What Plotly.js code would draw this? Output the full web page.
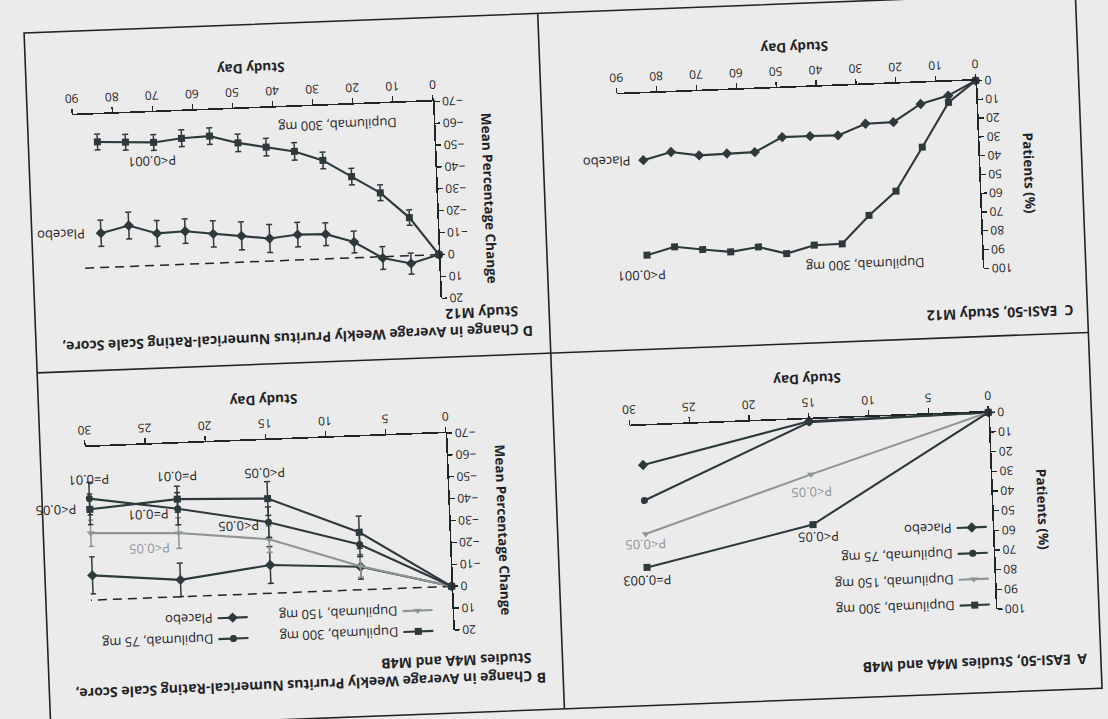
<!DOCTYPE html>
<html><head><meta charset="utf-8">
<script src="https://cdn.plot.ly/plotly-3.0.1.min.js"></script>
<style>
html,body{margin:0;padding:0;background:#ebebeb;overflow:hidden;width:1108px;height:719px;}
#wrap{width:1108px;height:719px;transform:rotate(177.8deg);transform-origin:554px 359.5px;}
#chart{width:1108px;height:719px;}
</style></head><body><div id="wrap"><div id="chart"></div></div>
<script>
// ---- Panel A: EASI-50, Studies M4A and M4B (percent of patients)
const daysA = [0, 15, 29];
const easiA_placebo = [0, 1, 20];
const easiA_75 = [0, 1.5, 38];
const easiA_150 = [0, 28, 55];
const easiA_300 = [0, 53.5, 72];

// ---- Panel B: change in weekly pruritus NRS, Studies M4A and M4B
const daysB = [0, 7.5, 15, 22.5, 29.8];
const nrsB_placebo = [0, -10.5, -12.9, -7.7, -11.3];
const nrsB_75 = [0, -20.7, -32.5, -40.2, -46.4];
const nrsB_150 = [0, -10.8, -24.7, -29.1, -30.6];
const nrsB_300 = [0, -26.3, -43.3, -44.6, -41.5];
const errB_placebo = [0, 5.6, 8.4, 7.7, 8.5];
const errB_75 = [0, 5.5, 7.0, 7.4, 7.4];
const errB_150 = [0, 5.0, 6.0, 7.0, 6.0];
const errB_300 = [0, 7.4, 7.7, 5.9, 7.0];
const refDaysB = [0, 30];
const refZeroB = [0, 0];

// ---- Panel C: EASI-50, Study M12
const daysC = [0, 7, 14, 21, 28, 35, 42, 49, 56, 63, 70, 77, 84];
const easiC_placebo = [0, 7.4, 11.3, 20.4, 20.7, 26.3, 26.1, 26.1, 33.5, 33.7, 34.1, 31.7, 35.5];
const easiC_300 = [0, 11, 34.3, 57.1, 69.5, 84, 84.2, 88.1, 84, 86, 84.2, 82.2, 86.1];

// ---- Panel D: change in weekly pruritus NRS, Study M12
const daysD = [0, 7, 14, 21, 28, 35, 42, 49, 56, 63, 70, 77, 84];
const nrsD_placebo = [0, 3.6, 0.6, -7.2, -11.3, -11.6, -10.3, -12.0, -13.4, -15.1, -14.6, -18.7, -15.7];
const nrsD_300 = [0, -17.4, -29.2, -37.1, -45.0, -49.6, -52.1, -54.5, -58.1, -57.6, -56.2, -56.8, -57.4];
const errD_placebo = [0, 4.8, 5.2, 5.0, 5.2, 5.6, 6.4, 6.4, 6.0, 5.6, 5.9, 6.1, 6.0];
const errD_300 = [0, 3.5, 3.6, 3.8, 3.8, 4.0, 4.0, 4.0, 3.8, 3.8, 3.6, 3.6, 3.6];
const refDaysD = [0, 89];
const refZeroD = [0, 0];

// ---- tick labels
const ticksA = [0, 5, 10, 15, 20, 25, 30];
const ticksC = [0, 10, 20, 30, 40, 50, 60, 70, 80, 90];
const ticksPct = [0, 10, 20, 30, 40, 50, 60, 70, 80, 90, 100];
const ticksChg = [-70, -60, -50, -40, -30, -20, -10, 0, 10, 20];

const NAME_PBO = 'Placebo', NAME_75 = 'Dupilumab, 75 mg', NAME_150 = 'Dupilumab, 150 mg', NAME_300 = 'Dupilumab, 300 mg';

const W = 1108, H = 719;
const DARK = '#2d393b', GRAY = '#8d9597', LINE = '#1e2628', TXT = '#1f2326';
const FONT = 'Open Sans, Noto Sans, sans-serif';
const px = v => v / W, py = v => 1 - v / H;

const SYM = {pbo: 'diamond', d75: 'circle', d150: 'triangle-up', d300: 'square'};

function series(x, y, xa, ya, name, color, symbol, extra) {
  const t = {
    type: 'scatter', mode: 'lines+markers', x, y, xaxis: xa, yaxis: ya, name,
    line: {color, width: 2.1},
    marker: {color, symbol, size: symbol === 'circle' ? 7 : (symbol === 'diamond' ? 8 : 7)},
    cliponaxis: false, showlegend: false, hoverinfo: 'skip'
  };
  return Object.assign(t, extra || {});
}
function err(arr, color) {
  return {type: 'data', array: arr, visible: true, color, thickness: 1.5, width: 3};
}
function ref(x, y, xa, ya) {
  return {type: 'scatter', mode: 'lines', x, y, xaxis: xa, yaxis: ya,
    line: {color: '#222', width: 1.5, dash: '9px,6px'}, showlegend: false, hoverinfo: 'skip', cliponaxis: false};
}

const data = [
  // Panel A
  series(daysA, easiA_placebo, 'x', 'y', NAME_PBO, DARK, SYM.pbo, {showlegend: true, legend: 'legend', legendgroup: 'a4', legendrank: 4}),
  series(daysA, easiA_75, 'x', 'y', NAME_75, DARK, SYM.d75, {showlegend: true, legend: 'legend', legendgroup: 'a3', legendrank: 3}),
  series(daysA, easiA_150, 'x', 'y', NAME_150, GRAY, SYM.d150, {showlegend: true, legend: 'legend', legendgroup: 'a2', legendrank: 2}),
  series(daysA, easiA_300, 'x', 'y', NAME_300, DARK, SYM.d300, {showlegend: true, legend: 'legend', legendgroup: 'a1', legendrank: 1}),
  // Panel B
  ref(refDaysB, refZeroB, 'x2', 'y2'),
  series(daysB, nrsB_placebo, 'x2', 'y2', NAME_PBO, DARK, SYM.pbo, {error_y: err(errB_placebo, DARK), showlegend: true, legend: 'legend3', legendgroup: 'b4', legendrank: 2}),
  series(daysB, nrsB_150, 'x2', 'y2', NAME_150, GRAY, SYM.d150, {error_y: err(errB_150, GRAY), showlegend: true, legend: 'legend2', legendgroup: 'b2', legendrank: 2}),
  series(daysB, nrsB_75, 'x2', 'y2', NAME_75, DARK, SYM.d75, {error_y: err(errB_75, DARK), showlegend: true, legend: 'legend3', legendgroup: 'b3', legendrank: 1}),
  series(daysB, nrsB_300, 'x2', 'y2', NAME_300, DARK, SYM.d300, {error_y: err(errB_300, DARK), showlegend: true, legend: 'legend2', legendgroup: 'b1', legendrank: 1}),
  // Panel C
  series(daysC, easiC_placebo, 'x3', 'y3', NAME_PBO, DARK, SYM.pbo),
  series(daysC, easiC_300, 'x3', 'y3', NAME_300, DARK, SYM.d300),
  // Panel D
  ref(refDaysD, refZeroD, 'x4', 'y4'),
  series(daysD, nrsD_placebo, 'x4', 'y4', NAME_PBO, DARK, SYM.pbo, {error_y: err(errD_placebo, DARK)}),
  series(daysD, nrsD_300, 'x4', 'y4', NAME_300, DARK, SYM.d300, {error_y: err(errD_300, DARK)})
];

// plot-area geometry in pixels (upright figure)
const LEFT = [122, 481], RIGHT = [665, 1026];
const TOP = [93, 290], BOTTOM_C = [434, 622], BOTTOM_D = [425, 622];

function xax(dom, range, ticks, anchor) {
  return {domain: [px(dom[0]), px(dom[1])], range, tickvals: ticks, anchor,
    showline: true, linecolor: LINE, linewidth: 1.6, ticks: 'outside', ticklen: 5, tickwidth: 1.3, tickcolor: LINE,
    showgrid: false, zeroline: false, tickfont: {family: FONT, size: 12, color: TXT}, fixedrange: true};
}
function yax(dom, range, ticks, anchor) {
  return {domain: [py(dom[1]), py(dom[0])], range, tickvals: ticks, anchor,
    showline: true, linecolor: LINE, linewidth: 1.6, ticks: 'outside', ticklen: 5, tickwidth: 1.3, tickcolor: LINE,
    showgrid: false, zeroline: false, tickfont: {family: FONT, size: 12, color: TXT}, fixedrange: true};
}

function textAnn(text, x, y, xref, yref, color, extra) {
  return Object.assign({text, x, y, xref, yref, showarrow: false,
    font: {family: FONT, size: 13, color: color || TXT}, xanchor: 'center', yanchor: 'middle'}, extra || {});
}
function paperAnn(text, x, y, extra) {
  return Object.assign({text, x: px(x), y: py(y), xref: 'paper', yref: 'paper', showarrow: false,
    font: {family: FONT, size: 14, color: TXT}, xanchor: 'left', yanchor: 'middle', align: 'left'}, extra || {});
}
const AXT = {family: FONT, size: 13.5, color: TXT};
const midY = d => (d[0] + d[1]) / 2;

const annotations = [
  // panel titles
  paperAnn('<b>A</b>', 31, 40), paperAnn('<b>EASI-50, Studies M4A and M4B</b>', 47, 40),
  paperAnn('<b>B</b>', 572, 42),
  paperAnn('<b>Change in Average Weekly Pruritus Numerical-Rating Scale Score,<br>Studies M4A and M4B</b>', 586, 32, {yanchor: 'top'}),
  paperAnn('<b>C</b>', 31, 389), paperAnn('<b>EASI-50, Study M12</b>', 47, 389),
  paperAnn('<b>D</b>', 572, 389),
  paperAnn('<b>Change in Average Weekly Pruritus Numerical-Rating Scale Score,<br>Study M12</b>', 586, 379, {yanchor: 'top'}),
  // axis titles
  paperAnn('<b>Study Day</b>', (LEFT[0] + LEFT[1]) / 2, TOP[1] + 40, {xanchor: 'center', font: AXT}),
  paperAnn('<b>Study Day</b>', (RIGHT[0] + RIGHT[1]) / 2, TOP[1] + 40, {xanchor: 'center', font: AXT}),
  paperAnn('<b>Study Day</b>', (LEFT[0] + LEFT[1]) / 2, BOTTOM_C[1] + 40, {xanchor: 'center', font: AXT}),
  paperAnn('<b>Study Day</b>', (RIGHT[0] + RIGHT[1]) / 2, BOTTOM_D[1] + 40, {xanchor: 'center', font: AXT}),
  paperAnn('<b>Patients (%)</b>', LEFT[0] - 50, midY(TOP), {xanchor: 'center', textangle: -90, font: AXT}),
  paperAnn('<b>Patients (%)</b>', LEFT[0] - 50, midY(BOTTOM_C), {xanchor: 'center', textangle: -90, font: AXT}),
  paperAnn('<b>Mean Percentage Change</b>', RIGHT[0] - 53, midY(TOP), {xanchor: 'center', textangle: -90, font: AXT}),
  paperAnn('<b>Mean Percentage Change</b>', RIGHT[0] - 53, midY(BOTTOM_D), {xanchor: 'center', textangle: -90, font: AXT}),
  // panel A p-values
  textAnn('P<0.05', 15, 37, 'x', 'y', GRAY),
  textAnn('P<0.05', 14.6, 60, 'x', 'y'),
  textAnn('P<0.05', 29, 60.6, 'x', 'y', GRAY),
  textAnn('P=0.003', 29, 78.7, 'x', 'y'),
  // panel B p-values
  textAnn('P=0.01', 29.8, -55, 'x2', 'y2'),
  textAnn('P=0.01', 22.5, -55, 'x2', 'y2'),
  textAnn('P<0.05', 15.2, -55, 'x2', 'y2'),
  textAnn('P<0.05', px(RIGHT[0] + 32.6 * (RIGHT[1] - RIGHT[0]) / 30), -41.8, 'paper', 'y2'),
  textAnn('P=0.01', 25, -38, 'x2', 'y2'),
  textAnn('P<0.05', 25, -22.4, 'x2', 'y2', GRAY),
  textAnn('P<0.05', 17.5, -31.1, 'x2', 'y2'),
  // panel C labels
  textAnn('Placebo', 86.8, 35.5, 'x3', 'y3', TXT, {xanchor: 'left'}),
  textAnn('Dupilumab, 300 mg', 29.5, 96, 'x3', 'y3'),
  textAnn('P<0.001', 85.6, 96.6, 'x3', 'y3'),
  // panel D labels
  textAnn('Placebo', 87.5, -15.5, 'x4', 'y4', TXT, {xanchor: 'left'}),
  textAnn('Dupilumab, 300 mg', 24, -61, 'x4', 'y4'),
  textAnn('P<0.001', 70.6, -47.7, 'x4', 'y4')
];

const frame = {color: '#1e2426', width: 1.6};
const shapes = [
  {type: 'rect', xref: 'paper', yref: 'paper', x0: px(19), x1: px(1071), y0: py(706), y1: py(10), line: frame},
  {type: 'line', xref: 'paper', yref: 'paper', x0: px(557), x1: px(557), y0: py(706), y1: py(10), line: frame},
  {type: 'line', xref: 'paper', yref: 'paper', x0: px(19), x1: px(1071), y0: py(366), y1: py(366), line: frame}
];

const legendBase = {xanchor: 'left', yanchor: 'top', bgcolor: 'rgba(0,0,0,0)', borderwidth: 0,
  font: {family: FONT, size: 13, color: TXT}, traceorder: 'grouped', itemwidth: 30, itemclick: false, itemdoubleclick: false};

const layout = {
  width: W, height: H, margin: {l: 0, r: 0, t: 0, b: 0},
  paper_bgcolor: '#ebebeb', plot_bgcolor: 'rgba(0,0,0,0)',
  showlegend: true,
  xaxis: xax(LEFT, [0, 30], ticksA, 'y'), yaxis: yax(TOP, [0, 100], ticksPct, 'x'),
  xaxis2: xax(RIGHT, [0, 30], ticksA, 'y2'), yaxis2: yax(TOP, [-70, 20], ticksChg, 'x2'),
  xaxis3: xax(LEFT, [0, 90], ticksC, 'y3'), yaxis3: yax(BOTTOM_C, [0, 100], ticksPct, 'x3'),
  xaxis4: xax(RIGHT, [0, 90], ticksC, 'y4'), yaxis4: yax(BOTTOM_D, [-70, 20], ticksChg, 'x4'),
  legend: Object.assign({}, legendBase, {x: px(123), y: py(83), tracegroupgap: 6}),
  legend2: Object.assign({}, legendBase, {x: px(680), y: py(78), tracegroupgap: 1}),
  legend3: Object.assign({}, legendBase, {x: px(865), y: py(78), tracegroupgap: 1}),
  annotations, shapes
};

Plotly.newPlot('chart', data, layout, {staticPlot: true, displayModeBar: false});
</script></body></html>
